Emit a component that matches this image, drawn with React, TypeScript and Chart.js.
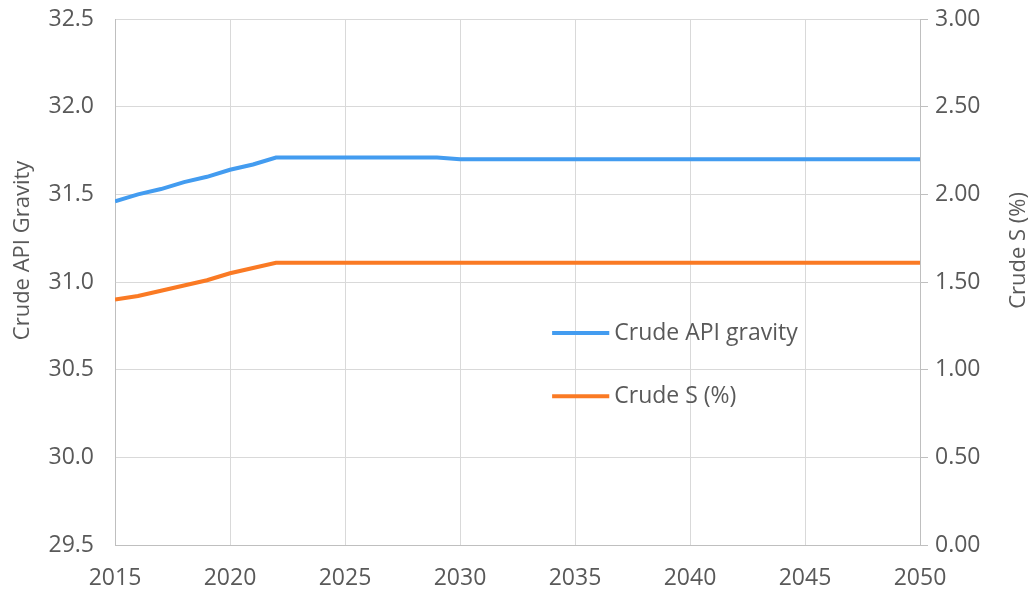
import React, { useEffect, useRef } from "react";
import { Chart, registerables } from "chart.js";

Chart.register(...registerables);

const years: number[] = [
  2015, 2016, 2017, 2018, 2019, 2020, 2021, 2022, 2023, 2024, 2025, 2026,
  2027, 2028, 2029, 2030, 2031, 2032, 2033, 2034, 2035, 2036, 2037, 2038,
  2039, 2040, 2041, 2042, 2043, 2044, 2045, 2046, 2047, 2048, 2049, 2050,
];

const apiGravity: number[] = [
  31.46, 31.5, 31.53, 31.57, 31.6, 31.64, 31.67, 31.71, 31.71, 31.71, 31.71,
  31.71, 31.71, 31.71, 31.71, 31.7, 31.7, 31.7, 31.7, 31.7, 31.7, 31.7, 31.7,
  31.7, 31.7, 31.7, 31.7, 31.7, 31.7, 31.7, 31.7, 31.7, 31.7, 31.7, 31.7, 31.7,
];

const sulfur: number[] = [
  1.4, 1.42, 1.45, 1.48, 1.51, 1.55, 1.58, 1.61, 1.61, 1.61, 1.61, 1.61, 1.61,
  1.61, 1.61, 1.61, 1.61, 1.61, 1.61, 1.61, 1.61, 1.61, 1.61, 1.61, 1.61, 1.61,
  1.61, 1.61, 1.61, 1.61, 1.61, 1.61, 1.61, 1.61, 1.61, 1.61,
];

const seriesNames: string[] = ["Crude API gravity", "Crude S (%)"];
const seriesColors: string[] = ["#439CF0", "#FA7A24"];
const leftTitle = "Crude API Gravity";
const rightTitle = "Crude S (%)";

const FONT = "'Open Sans', sans-serif";
const FS = 23;
const TEXT = "#595959";
const GRID = "#D9D9D9";
const AXIS = "#BFBFBF";

export default function App() {
  const ref = useRef<HTMLCanvasElement | null>(null);

  useEffect(() => {
    const canvas = ref.current;
    if (!canvas) return;

    const overlayPlugin = {
      id: "overlayText",
      afterDatasetsDraw(chart: any) {
        const { ctx, chartArea } = chart;
        const w = chartArea.right - chartArea.left;
        const h = chartArea.bottom - chartArea.top;
        const x0 = chartArea.left + w * 0.543;
        const x1 = chartArea.left + w * 0.614;
        const ys = [chartArea.top + h * 0.597, chartArea.top + h * 0.717];
        ctx.save();
        ctx.font = `${FS}px ${FONT}`;
        ctx.textBaseline = "middle";
        ctx.textAlign = "left";
        seriesNames.forEach((name, i) => {
          ctx.strokeStyle = seriesColors[i];
          ctx.lineWidth = 4;
          ctx.beginPath();
          ctx.moveTo(x0, ys[i]);
          ctx.lineTo(x1, ys[i]);
          ctx.stroke();
          ctx.fillStyle = TEXT;
          ctx.fillText(name, x1 + 5, ys[i]);
        });
        // axis titles (both read bottom-to-top)
        const ty = chartArea.top + h * 0.44;
        ctx.font = `22px ${FONT}`;
        ctx.textAlign = "center";
        ctx.fillStyle = TEXT;
        ctx.save();
        ctx.translate(23, ty);
        ctx.rotate(-Math.PI / 2);
        ctx.fillText(leftTitle, 0, 0);
        ctx.restore();
        ctx.save();
        ctx.translate(chart.width - 15, ty);
        ctx.rotate(-Math.PI / 2);
        ctx.fillText(rightTitle, 0, 0);
        ctx.restore();
        ctx.restore();
      },
    };

    const noPadV = (width: number) => (s: any) => {
      s.width = width;
      s.paddingTop = 0;
      s.paddingBottom = 0;
    };

    const chart = new Chart(canvas, {
      type: "line",
      data: {
        datasets: [
          {
            label: seriesNames[0],
            data: years.map((y, i) => ({ x: y, y: apiGravity[i] })),
            borderColor: seriesColors[0],
            backgroundColor: seriesColors[0],
            borderWidth: 4,
            pointRadius: 0,
            tension: 0,
            yAxisID: "y",
          },
          {
            label: seriesNames[1],
            data: years.map((y, i) => ({ x: y, y: sulfur[i] })),
            borderColor: seriesColors[1],
            backgroundColor: seriesColors[1],
            borderWidth: 4,
            pointRadius: 0,
            tension: 0,
            yAxisID: "y2",
          },
        ],
      },
      plugins: [overlayPlugin],
      options: {
        responsive: false,
        animation: false,
        devicePixelRatio: 1,
        layout: { padding: { top: 19, left: 0, right: 0, bottom: 0 } },
        plugins: {
          legend: { display: false },
          tooltip: { enabled: false },
        },
        scales: {
          x: {
            type: "linear",
            min: 2015,
            max: 2050,
            ticks: {
              stepSize: 5,
              color: TEXT,
              font: { family: FONT, size: FS },
              padding: 20,
              maxRotation: 0,
              callback: (v: any) => String(v),
            },
            grid: { color: GRID, lineWidth: 1, drawTicks: false },
            border: { color: AXIS, width: 1 },
            afterFit: (s: any) => {
              s.height = 47;
              s.paddingLeft = 0;
              s.paddingRight = 0;
            },
          },
          y: {
            type: "linear",
            position: "left",
            min: 29.5,
            max: 32.5,
            ticks: {
              stepSize: 0.5,
              color: TEXT,
              font: { family: FONT, size: FS },
              padding: 21,
              callback: (v: any) => Number(v).toFixed(1),
            },
            grid: { color: GRID, lineWidth: 1, drawTicks: false },
            border: { color: AXIS, width: 1 },
            afterFit: noPadV(115),
          },
          y2: {
            type: "linear",
            position: "right",
            min: 0,
            max: 3,
            ticks: {
              stepSize: 0.5,
              color: TEXT,
              font: { family: FONT, size: FS },
              padding: 7,
              callback: (v: any) => Number(v).toFixed(2),
            },
            grid: {
              drawOnChartArea: false,
              color: AXIS,
              drawTicks: true,
              tickLength: 8,
            },
            border: { color: AXIS, width: 1 },
            afterFit: noPadV(114),
          },
        },
      },
    } as any);

    return () => chart.destroy();
  }, []);

  return (
    <div
      style={{
        position: "absolute",
        left: 0,
        top: 0,
        width: 1034,
        height: 592,
        background: "#fff",
      }}
    >
      <canvas ref={ref} width={1034} height={592} />
    </div>
  );
}
